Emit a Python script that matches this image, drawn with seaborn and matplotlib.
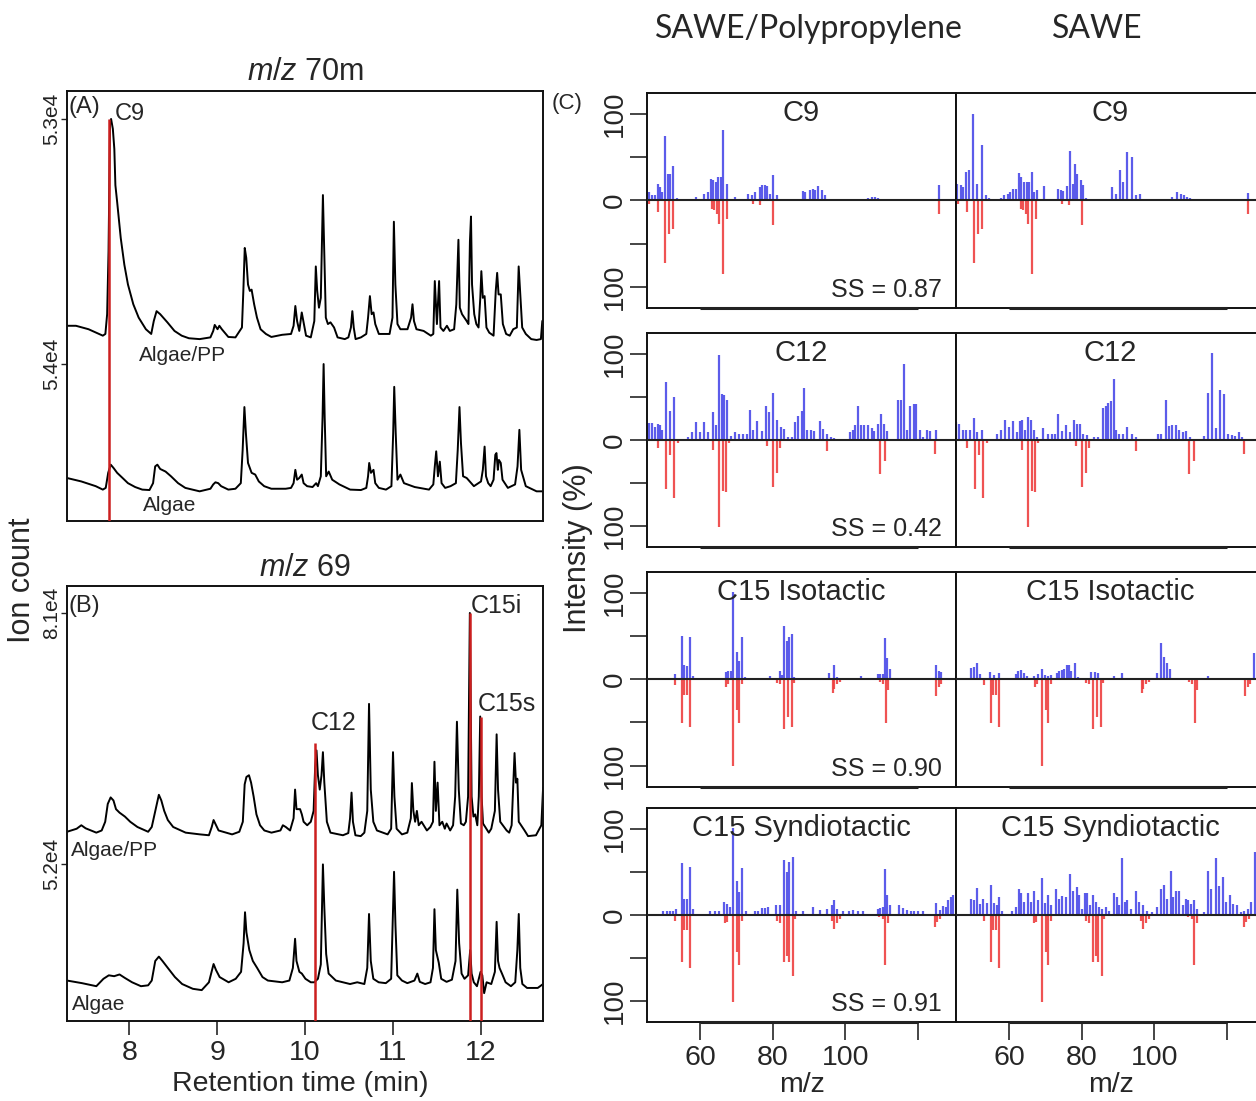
import matplotlib
matplotlib.use("Agg")
import matplotlib.pyplot as plt
import seaborn as sns

# ---------------- chromatogram data (retention time [min], stacked relative signal [% of panel]) -------------
a_algae_pp = [(7.290, 45.4), (7.392, 45.4), (7.535, 44.6), (7.698, 43.1), (7.727, 43.5), (7.747, 48.1), (7.763, 62.7),
              (7.780, 92.7), (7.792, 93.5), (7.812, 91.2), (7.829, 86.5), (7.841, 78.1), (7.861, 74.2), (7.902, 65.8),
              (7.943, 59.6), (7.984, 55.0), (8.045, 50.4), (8.106, 47.3), (8.188, 44.6), (8.249, 43.5), (8.278, 46.5),
              (8.310, 48.8), (8.351, 48.1), (8.433, 46.2), (8.514, 44.2), (8.596, 43.1), (8.678, 42.5), (8.800, 42.3),
              (8.923, 42.7), (8.955, 44.2), (8.972, 45.6), (9.004, 44.6), (9.025, 45.4), (9.053, 44.6), (9.127, 42.8),
              (9.208, 42.7), (9.282, 45.0), (9.298, 53.5), (9.314, 63.5), (9.331, 61.2), (9.351, 55.0), (9.372, 53.5),
              (9.392, 53.8), (9.421, 50.4), (9.453, 47.3), (9.494, 44.6), (9.555, 43.5), (9.617, 42.8), (9.739, 43.3),
              (9.841, 43.5), (9.870, 45.4), (9.890, 50.0), (9.910, 46.5), (9.935, 44.2), (9.963, 48.5), (9.984, 46.2),
              (10.012, 43.1), (10.066, 42.7), (10.106, 46.5), (10.123, 59.2), (10.139, 53.5), (10.159, 49.6),
              (10.180, 51.9), (10.204, 75.8), (10.220, 61.9), (10.237, 47.3), (10.261, 45.8), (10.290, 46.2),
              (10.331, 45.0), (10.371, 42.7), (10.453, 42.3), (10.494, 42.7), (10.523, 45.0), (10.539, 48.8),
              (10.555, 45.0), (10.576, 42.3), (10.637, 42.7), (10.698, 43.5), (10.718, 47.3), (10.739, 52.3),
              (10.759, 48.1), (10.780, 48.5), (10.800, 45.8), (10.841, 43.5), (10.963, 43.5), (10.996, 47.3),
              (11.012, 69.6), (11.029, 55.0), (11.053, 45.8), (11.086, 44.6), (11.167, 44.6), (11.208, 47.3),
              (11.224, 50.4), (11.241, 46.5), (11.269, 44.6), (11.351, 44.2), (11.433, 43.1), (11.461, 43.5),
              (11.478, 55.8), (11.502, 45.8), (11.527, 55.8), (11.543, 45.0), (11.576, 44.2), (11.616, 45.4),
              (11.649, 44.2), (11.698, 44.6), (11.723, 50.4), (11.747, 65.4), (11.763, 49.6), (11.788, 48.1),
              (11.841, 46.5), (11.861, 45.8), (11.878, 65.0), (11.890, 70.8), (11.902, 55.0), (11.927, 48.1),
              (11.951, 45.8), (11.976, 45.0), (11.996, 51.9), (12.008, 58.1), (12.025, 51.9), (12.045, 52.3),
              (12.066, 45.0), (12.098, 43.8), (12.147, 43.1), (12.172, 53.5), (12.188, 57.7), (12.204, 52.7),
              (12.229, 52.7), (12.253, 45.8), (12.290, 43.5), (12.331, 43.1), (12.371, 44.6), (12.412, 45.0),
              (12.433, 59.2), (12.449, 53.5), (12.473, 45.0), (12.514, 43.5), (12.576, 42.3), (12.637, 42.1),
              (12.686, 42.3), (12.702, 46.5), (12.718, 46.9)]

a_algae = [(7.290, 10.0), (7.453, 9.2), (7.617, 8.1), (7.698, 7.3), (7.731, 7.7), (7.759, 11.2), (7.788, 13.1),
           (7.821, 12.3), (7.861, 11.2), (7.923, 10.0), (7.984, 8.8), (8.066, 7.9), (8.147, 7.3), (8.229, 7.2),
           (8.270, 8.8), (8.294, 12.7), (8.319, 13.1), (8.351, 12.1), (8.412, 11.5), (8.474, 10.4), (8.555, 8.8),
           (8.637, 7.7), (8.800, 6.9), (8.923, 7.5), (8.955, 8.5), (8.980, 9.0), (9.012, 8.8), (9.045, 8.1),
           (9.127, 7.3), (9.208, 7.5), (9.269, 8.8), (9.290, 16.5), (9.310, 26.5), (9.327, 20.4), (9.351, 13.5),
           (9.392, 11.2), (9.433, 10.8), (9.474, 9.2), (9.535, 8.1), (9.617, 7.5), (9.780, 7.5), (9.841, 7.7),
           (9.870, 8.8), (9.890, 11.9), (9.910, 9.6), (9.935, 10.0), (9.963, 10.8), (9.984, 8.8), (10.024, 8.1),
           (10.086, 7.9), (10.127, 8.8), (10.147, 8.1), (10.180, 10.4), (10.200, 24.2), (10.212, 36.5),
           (10.224, 24.2), (10.241, 10.4), (10.270, 11.5), (10.310, 9.6), (10.392, 8.5), (10.514, 7.3),
           (10.637, 7.2), (10.698, 7.7), (10.718, 10.4), (10.731, 13.5), (10.751, 11.2), (10.780, 11.9),
           (10.800, 8.8), (10.841, 7.7), (10.922, 7.3), (10.984, 8.1), (11.004, 20.4), (11.016, 31.2),
           (11.033, 20.4), (11.053, 9.6), (11.086, 10.8), (11.127, 8.8), (11.249, 7.9), (11.412, 7.3),
           (11.461, 8.5), (11.478, 12.7), (11.494, 16.2), (11.514, 10.4), (11.535, 13.8), (11.555, 8.8),
           (11.596, 7.7), (11.657, 8.1), (11.718, 8.8), (11.739, 16.5), (11.759, 26.5), (11.776, 18.1),
           (11.800, 10.4), (11.841, 10.0), (11.923, 8.1), (12.004, 9.2), (12.025, 11.9), (12.045, 17.3),
           (12.061, 10.4), (12.086, 8.8), (12.114, 8.1), (12.147, 9.6), (12.167, 15.4), (12.180, 15.8),
           (12.196, 11.9), (12.208, 14.2), (12.229, 13.5), (12.249, 9.6), (12.310, 7.7), (12.392, 8.5),
           (12.420, 12.7), (12.441, 21.2), (12.461, 11.9), (12.514, 8.1), (12.637, 6.9), (12.718, 6.9)]

b_algae_pp = [(7.290, 43.5), (7.400, 44.2), (7.453, 45.0), (7.502, 44.3), (7.624, 43.3), (7.685, 43.8), (7.725, 45.8),
              (7.754, 49.9), (7.787, 51.4), (7.819, 50.7), (7.848, 48.7), (7.888, 47.9), (7.949, 47.0), (8.010, 45.8),
              (8.092, 44.6), (8.214, 43.5), (8.255, 44.6), (8.295, 48.3), (8.336, 52.0), (8.364, 50.7), (8.397, 48.3),
              (8.438, 46.2), (8.499, 44.6), (8.641, 43.3), (8.804, 42.9), (8.906, 42.7), (8.938, 44.6), (8.959, 46.2),
              (8.987, 45.0), (9.016, 43.8), (9.170, 42.9), (9.252, 43.5), (9.292, 45.8), (9.313, 54.4), (9.333, 56.1),
              (9.362, 56.5), (9.386, 54.8), (9.415, 51.6), (9.447, 47.5), (9.488, 45.0), (9.537, 43.8), (9.618, 43.3),
              (9.720, 43.8), (9.748, 45.0), (9.781, 44.6), (9.830, 43.8), (9.870, 46.6), (9.887, 53.2), (9.903, 48.7),
              (9.944, 48.7), (9.964, 47.5), (9.984, 45.8), (10.025, 45.0), (10.066, 45.8), (10.098, 48.3),
              (10.115, 58.1), (10.131, 62.2), (10.147, 56.5), (10.168, 53.2), (10.188, 56.5), (10.204, 61.8),
              (10.220, 54.8), (10.249, 45.8), (10.290, 43.3), (10.432, 42.7), (10.493, 43.2), (10.513, 46.6),
              (10.530, 52.5), (10.546, 45.8), (10.574, 42.7), (10.635, 42.5), (10.676, 43.3), (10.709, 48.3),
              (10.729, 72.9), (10.749, 53.2), (10.778, 45.8), (10.819, 43.8), (10.941, 42.9), (10.981, 44.2),
              (11.002, 61.8), (11.018, 51.6), (11.043, 44.2), (11.104, 42.9), (11.165, 43.3), (11.205, 46.6),
              (11.217, 54.7), (11.234, 48.3), (11.254, 45.8), (11.274, 48.3), (11.295, 45.0), (11.327, 45.8),
              (11.388, 43.8), (11.428, 44.6), (11.457, 45.8), (11.474, 59.6), (11.490, 48.3), (11.510, 54.8),
              (11.531, 45.0), (11.563, 45.8), (11.592, 44.2), (11.612, 45.4), (11.653, 43.8), (11.686, 45.0),
              (11.710, 51.6), (11.730, 68.8), (11.751, 53.2), (11.775, 45.4), (11.808, 45.0), (11.832, 45.8),
              (11.857, 51.6), (11.877, 93.8), (11.897, 51.6), (11.918, 47.0), (11.938, 47.5), (11.962, 45.0),
              (11.979, 51.6), (11.995, 70.0), (12.011, 51.6), (12.027, 45.4), (12.093, 43.3), (12.121, 44.2),
              (12.162, 48.3), (12.182, 65.9), (12.198, 53.2), (12.223, 45.8), (12.296, 43.8), (12.325, 43.3),
              (12.353, 45.0), (12.369, 53.2), (12.386, 61.6), (12.402, 54.8), (12.418, 55.7), (12.434, 45.8),
              (12.500, 43.8), (12.540, 42.5), (12.630, 42.7), (12.691, 45.0), (12.711, 53.6)]

b_algae = [(7.290, 9.3), (7.461, 8.7), (7.624, 8.0), (7.705, 9.7), (7.766, 10.5), (7.827, 10.3), (7.888, 10.7),
           (7.949, 9.9), (8.031, 8.9), (8.132, 8.0), (8.214, 8.2), (8.255, 9.3), (8.295, 13.8), (8.336, 14.8),
           (8.377, 13.8), (8.438, 12.2), (8.519, 10.1), (8.601, 8.5), (8.723, 7.4), (8.824, 7.1), (8.906, 8.9),
           (8.959, 13.1), (8.987, 11.7), (9.028, 10.1), (9.130, 8.9), (9.211, 9.7), (9.272, 11.3), (9.301, 17.9),
           (9.317, 25.0), (9.333, 20.4), (9.366, 16.3), (9.406, 13.8), (9.455, 12.2), (9.516, 10.1), (9.577, 9.3),
           (9.740, 8.9), (9.822, 9.3), (9.862, 12.2), (9.887, 18.9), (9.903, 13.8), (9.936, 11.3), (9.964, 10.9),
           (10.005, 9.7), (10.066, 8.9), (10.106, 8.9), (10.147, 9.7), (10.180, 13.0), (10.204, 36.0),
           (10.220, 26.1), (10.241, 15.4), (10.269, 10.9), (10.351, 9.3), (10.513, 8.5), (10.595, 8.9),
           (10.676, 8.5), (10.709, 12.2), (10.729, 24.6), (10.749, 13.8), (10.778, 9.7), (10.839, 8.9),
           (10.920, 8.7), (10.981, 9.7), (11.002, 25.3), (11.014, 34.3), (11.030, 22.0), (11.051, 10.5),
           (11.104, 9.3), (11.165, 8.7), (11.246, 9.3), (11.279, 10.9), (11.307, 9.0), (11.368, 8.5),
           (11.429, 8.9), (11.457, 12.2), (11.474, 25.7), (11.490, 16.3), (11.523, 13.4), (11.551, 9.7),
           (11.612, 9.0), (11.673, 9.5), (11.714, 13.8), (11.734, 30.2), (11.755, 17.9), (11.783, 10.9),
           (11.816, 9.7), (11.857, 10.5), (11.881, 16.3), (11.897, 10.9), (11.922, 8.9), (11.958, 8.0),
           (11.999, 11.3), (12.019, 10.5), (12.040, 6.4), (12.068, 8.9), (12.121, 8.5), (12.162, 11.3),
           (12.182, 22.8), (12.198, 13.8), (12.215, 12.2), (12.243, 10.9), (12.284, 8.9), (12.345, 8.0),
           (12.394, 8.9), (12.418, 16.3), (12.434, 24.6), (12.451, 12.2), (12.475, 8.5), (12.528, 7.6),
           (12.650, 7.6), (12.711, 8.5)]

a_ytick_labels = ["5.3e4", "5.4e4"]
b_ytick_labels = ["8.1e4", "5.2e4"]
time_ticks = [8, 9, 10, 11, 12]

# marked compounds (retention time, top of marker)
a_marks = [("C9", 7.772, 93.5)]
b_marks = [("C12", 10.119, 63.9), ("C15i", 11.877, 93.8), ("C15s", 11.999, 70.0)]

# ---------------- mass spectra (m/z, intensity %) ----------------
row_titles = ["C9", "C12", "C15 Isotactic", "C15 Syndiotactic"]
ss_values = ["0.87", "0.42", "0.90", "0.91"]
col_titles = ["SAWE/Polypropylene", "SAWE"]

c9_mix = [(46.0, 9.6), (46.7, 5.8), (47.6, 5.8), (48.3, 18.5), (49.0, 15.4), (49.4, 9.6), (50.45, 75), (51.1, 30.8),
          (51.7, 30.8), (52.65, 39.2), (53.75, 3), (58.9, 3.8), (61.1, 7.7), (62.3, 9.6), (62.9, 25), (63.7, 23),
          (64.4, 21), (65.0, 27), (65.7, 27), (66.4, 81.5), (67.3, 19), (69.6, 3.8), (73.3, 7.7), (74.2, 5.8),
          (75.1, 9.6), (76.1, 2), (76.5, 15.4), (77.2, 17.3), (77.9, 17.3), (78.5, 16.2), (79.3, 7.7), (80.2, 29.6),
          (81.1, 5.8), (88.3, 10.8), (88.9, 9.6), (90.3, 11.5), (91.0, 13.5), (91.7, 11.5), (92.6, 16.2),
          (93.5, 11.5), (94.4, 5.8), (106.4, 3), (107.3, 4), (108.2, 3.5), (109.1, 3), (125.8, 17.3)]
c9_sawe = [(45.05, 23), (45.8, 19.2), (46.7, 17.3), (47.4, 15.4), (48.1, 32.7), (49.0, 34.6), (50.2, 100), (51.3, 18.5),
           (52.5, 63.5), (53.6, 5.8), (54.5, 3), (57.7, 3), (58.6, 5.8), (59.6, 7.7), (60.3, 9.6), (61.2, 13.5),
           (62.0, 13.5), (62.8, 31.5), (63.4, 27), (64.2, 21), (64.9, 21), (65.5, 21), (66.2, 32.7), (66.9, 9.6),
           (67.6, 11.5), (69.5, 16.2), (73.5, 13.5), (74.3, 11.5), (75.0, 10.8), (75.9, 16.2), (76.8, 57),
           (77.5, 19.2), (78.1, 42.3), (78.8, 30.8), (79.8, 23), (80.5, 17.3), (81.1, 3), (82.1, 2), (88.5, 15.4),
           (89.4, 7.7), (90.6, 34.6), (91.5, 21), (92.6, 55.8), (93.8, 50), (94.9, 5.8), (96.1, 7.7), (103.6, 2),
           (105.0, 3.8), (106.4, 9.6), (107.3, 7.7), (108.2, 5.8), (109.1, 3.8), (109.9, 3), (125.7, 8.5)]
c9_ref = [(46.0, 3.8), (48.5, 13.5), (50.45, 73), (51.5, 38.5), (52.5, 32.7), (63.2, 9.6), (63.9, 11.5), (64.6, 15.4),
          (65.3, 27), (66.4, 84.6), (67.3, 21), (74.7, 3.8), (76.5, 5.8), (80.2, 28.8), (125.8, 15.4)]

c12_mix = [(46.0, 19.5), (46.7, 19.5), (47.6, 15), (48.3, 19), (49.0, 17), (49.4, 12), (50.6, 67), (51.6, 34),
           (52.7, 50), (53.8, 1), (56.8, 4), (57.7, 9), (58.9, 21), (60.0, 9), (61.1, 21), (62.3, 9), (63.5, 32),
           (64.4, 17), (65.3, 99), (66.0, 54), (66.7, 52), (67.5, 46), (68.4, 5), (69.6, 9), (70.8, 7), (71.9, 7),
           (72.9, 7), (73.8, 35), (74.7, 12), (75.8, 22), (77.0, 11), (78.1, 40), (79.1, 32), (80.2, 55), (81.3, 23),
           (82.2, 15), (83.0, 13), (84.3, 4), (85.2, 4), (86.2, 21), (87.1, 28), (88.0, 34), (88.6, 60), (89.6, 12),
           (90.5, 12), (91.4, 11), (93.1, 22), (94.0, 13), (94.9, 7), (96.0, 4), (96.9, 2), (101.3, 9), (102.2, 12),
           (102.7, 17), (103.6, 39), (104.4, 18), (105.3, 17), (106.2, 17), (107.3, 14), (108.0, 11), (109.1, 19),
           (109.8, 30), (110.8, 19), (111.4, 11), (114.6, 47), (115.3, 46), (116.2, 88), (116.9, 12), (117.9, 40),
           (118.8, 42), (119.5, 42), (120.6, 12), (121.5, 3), (122.6, 12), (123.4, 11), (125.0, 12)]
c12_sawe = [(45.3, 21), (46.2, 19), (47.2, 12), (48.1, 12), (49.3, 12), (50.4, 26), (51.3, 9), (52.5, 12), (53.6, 1),
            (56.8, 7), (57.7, 12), (58.8, 23), (60.0, 15), (61.2, 22), (62.1, 9), (63.1, 22), (63.7, 23), (64.3, 12),
            (65.3, 27), (66.0, 23), (66.9, 12), (67.8, 3), (69.4, 14), (70.6, 7), (71.8, 7), (72.6, 7), (73.5, 30),
            (74.5, 11), (75.6, 17), (76.8, 9), (77.9, 23), (78.7, 19), (79.6, 19), (80.5, 7), (81.6, 6), (83.3, 4),
            (84.4, 3), (86.0, 37), (86.7, 40), (87.3, 43), (88.0, 45), (88.8, 71), (89.4, 12), (90.3, 7), (91.5, 7),
            (92.6, 15), (93.8, 7), (94.9, 4), (95.8, 1), (100.9, 7), (101.8, 7), (103.2, 47), (104.1, 16),
            (105.0, 17), (106.0, 17), (106.9, 12), (107.8, 9), (108.7, 11), (109.9, 4), (113.7, 5), (114.8, 55),
            (116.0, 101), (117.0, 14), (118.1, 58), (119.2, 54), (120.3, 7), (121.3, 6), (122.2, 5), (123.4, 9),
            (124.3, 3)]
c12_ref = [(48.3, 9), (50.6, 57), (51.6, 18), (52.7, 67), (53.8, 3), (63.5, 12), (65.3, 101), (66.2, 59), (67.2, 60),
           (68.1, 4), (78.4, 7), (80.2, 55), (81.3, 38), (82.0, 9), (95.1, 13), (109.6, 40), (111.0, 24), (124.7, 16)]

c15i_mix = [(53.1, 6), (55.0, 50), (55.7, 16), (56.3, 15), (57.2, 49), (58.2, 4), (67.2, 8), (67.8, 9), (68.5, 9),
            (69.2, 101), (70.1, 32), (70.7, 21), (71.5, 49), (72.4, 3), (79.3, 4), (81.9, 9), (82.5, 5), (83.1, 62),
            (83.9, 44), (84.6, 49), (85.3, 52), (85.9, 3), (95.4, 7), (97.0, 16), (97.7, 3), (104.3, 4), (108.9, 6),
            (109.6, 6), (110.3, 6), (111.0, 48), (111.6, 25), (112.3, 12), (125.0, 16), (125.7, 9), (126.3, 8)]
c15i_sawe = [(49.6, 13), (50.4, 14), (51.1, 19), (52.0, 6), (54.8, 8), (55.9, 5), (57.3, 7), (61.9, 6), (62.6, 9),
             (63.2, 11), (64.0, 7), (64.9, 4), (66.9, 4), (68.0, 6), (69.0, 12), (69.8, 5), (70.8, 4), (71.7, 5),
             (73.2, 7), (73.8, 10), (74.5, 11), (75.2, 12), (75.9, 16), (76.6, 17), (77.2, 9), (78.1, 19), (79.0, 3),
             (82.5, 8), (83.6, 8), (84.4, 7), (88.9, 4), (91.2, 7), (100.7, 7), (101.8, 42), (102.7, 26), (103.5, 19),
             (104.4, 12), (114.7, 4), (127.5, 30)]
c15i_ref = [(53.1, 7), (55.0, 51), (55.7, 18), (56.3, 18), (57.2, 55), (67.2, 9), (67.8, 5), (69.2, 101), (70.1, 36),
            (70.7, 51), (71.5, 5), (81.1, 4), (81.9, 5), (83.1, 58), (84.1, 44), (85.3, 55), (86.0, 4), (96.6, 16),
            (97.0, 11), (97.7, 5), (98.6, 3), (109.6, 3), (110.5, 5), (111.2, 51), (111.9, 12), (125.0, 19),
            (125.7, 9), (126.3, 5)]

c15s_mix = [(49.9, 4), (50.8, 5), (51.6, 5), (52.5, 5), (53.4, 7), (55.0, 60), (55.7, 19), (56.3, 19), (57.2, 56),
            (58.2, 7), (62.8, 4), (64.1, 5), (65.3, 5), (66.6, 15), (67.3, 13), (68.3, 9), (69.2, 101), (70.1, 39),
            (70.7, 27), (71.5, 55), (72.7, 4), (75.2, 4), (76.1, 5), (77.0, 8), (77.9, 8), (78.8, 9), (80.9, 12),
            (81.9, 12), (83.1, 64), (83.9, 50), (84.6, 62), (85.5, 67), (86.4, 5), (88.5, 5), (91.0, 9), (93.1, 6),
            (94.9, 7), (96.3, 11), (97.0, 17), (97.8, 7), (99.5, 5), (100.9, 5), (102.2, 6), (103.6, 5), (104.8, 5),
            (108.9, 7), (109.6, 8), (110.3, 9), (111.0, 53), (111.6, 23), (112.3, 12), (114.9, 11), (116.0, 8),
            (116.9, 6), (118.0, 5), (119.0, 4), (120.1, 4), (121.5, 4), (125.0, 14), (126.0, 6), (126.9, 10),
            (127.8, 9), (128.4, 17), (129.1, 21), (129.8, 23)]
c15s_sawe = [(49.6, 19), (50.4, 17), (51.1, 31), (52.0, 13), (52.9, 19), (53.9, 14), (55.0, 35), (55.9, 14),
             (56.6, 11), (57.3, 21), (58.2, 4), (60.9, 4), (61.9, 9), (62.8, 30), (63.4, 25), (64.2, 15), (65.1, 25),
             (66.0, 15), (66.9, 28), (68.0, 17), (69.0, 43), (69.8, 14), (70.8, 23), (71.5, 12), (72.9, 30),
             (73.8, 19), (74.7, 22), (75.6, 21), (76.8, 48), (77.7, 28), (78.7, 32), (79.3, 23), (80.0, 7),
             (80.9, 25), (81.6, 25), (82.3, 12), (83.0, 23), (83.9, 15), (84.8, 9), (85.7, 7), (86.7, 9), (87.6, 5),
             (88.8, 26), (89.7, 21), (90.3, 12), (91.1, 66), (91.9, 15), (92.6, 17), (93.5, 7), (94.9, 28),
             (95.8, 15), (96.8, 12), (98.1, 5), (99.5, 3), (100.7, 9), (101.8, 30), (102.7, 35), (103.6, 19),
             (104.6, 51), (105.3, 21), (105.9, 28), (106.9, 28), (107.8, 12), (108.7, 19), (109.3, 17), (110.2, 13),
             (111.0, 17), (111.9, 7), (113.6, 3), (114.7, 51), (115.6, 30), (117.0, 66), (117.9, 34), (118.8, 44),
             (119.7, 15), (120.9, 23), (121.8, 13), (122.7, 12), (123.8, 3), (124.8, 5), (125.7, 7), (126.6, 15),
             (127.7, 73)]
c15s_ref = [(53.1, 7), (55.0, 55), (55.7, 18), (56.3, 18), (57.2, 62), (66.9, 10), (67.5, 8), (69.2, 101), (70.1, 43),
            (70.7, 59), (71.5, 7), (81.1, 7), (82.0, 9), (83.1, 55), (83.9, 48), (84.6, 55), (85.5, 71), (86.2, 5),
            (96.3, 7), (97.0, 17), (97.8, 9), (98.6, 5), (109.4, 3), (110.3, 5), (111.0, 59), (111.9, 10),
            (124.7, 14), (125.4, 8), (126.1, 5)]

mix_spectra = [c9_mix, c12_mix, c15i_mix, c15s_mix]
sawe_spectra = [c9_sawe, c12_sawe, c15i_sawe, c15s_sawe]
ref_spectra = [c9_ref, c12_ref, c15i_ref, c15s_ref]
mz_ticks = [60, 80, 100, 120]
mz_tick_labels = ["60", "80", "100", ""]
int_ticks = [100, 50, 0, -50, -100]
int_tick_labels = ["100", "", "0", "", "100"]

# ---------------- styling ----------------
sns.set_style("white")
plt.rcParams['font.family'] = ['Liberation Sans', 'DejaVu Sans']
plt.rcParams['mathtext.fontset'] = 'custom'
plt.rcParams['mathtext.it'] = 'Liberation Sans:italic'
plt.rcParams['mathtext.rm'] = 'Liberation Sans'
plt.rcParams['axes.edgecolor'] = '#111111'
plt.rcParams['axes.linewidth'] = 1.4

W, H = 1256, 1101
fig = plt.figure(figsize=(W / 100, H / 100), dpi=100)


def rect(l, t, r, b):
    return [l / W, 1 - b / H, (r - l) / W, (b - t) / H]


BLUE = '#4a4ae8'
RED = '#ee4040'
MARK = '#cc1f1f'


def chromatogram(ax, upper, lower, tick_labels, marks, labels):
    for trace in (upper, lower):
        t = [p[0] for p in trace]
        s = [p[1] for p in trace]
        sns.lineplot(x=t, y=s, sort=False, estimator=None, ax=ax, color='black', linewidth=1.4)
    for name, rt, top in marks:
        ax.vlines(rt, 0, top, color=MARK, linewidth=1.8, zorder=3)
    ax.set_xlim(7.29, 12.71)
    ax.set_ylim(0, 100)
    ax.set_yticks([max(p[1] for p in upper), max(p[1] for p in lower)])
    ax.set_yticklabels(tick_labels, rotation=90, va='center', fontsize=15)
    ax.tick_params(axis='y', left=True, length=4, width=1, pad=0.5, colors='#222222')
    ax.set_xlabel('')
    ax.set_ylabel('')
    for txt, x, y, fs in labels:
        ax.text(x, y, txt, ha='left', va='center', fontsize=fs)


axA = fig.add_axes(rect(67, 91, 543, 521))
chromatogram(axA, a_algae_pp, a_algae, a_ytick_labels, a_marks,
             [("(A)", 7.31, 96.2, 17), ("C9", 7.83, 94.6, 17), ("Algae/PP", 8.11, 38.5, 15),
              ("Algae", 8.15, 3.6, 15)])
axA.set_xticks([])

axB = fig.add_axes(rect(67, 586, 543, 1021))
chromatogram(axB, b_algae_pp, b_algae, b_ytick_labels, b_marks,
             [("(B)", 7.31, 95.5, 17), ("C12", 10.07, 68.4, 18), ("C15i", 11.89, 95.5, 18),
              ("C15s", 11.97, 72.9, 18), ("Algae/PP", 7.33, 39.2, 15), ("Algae", 7.35, 3.8, 15)])
axB.set_xticks(time_ticks)
axB.set_xticklabels([str(v) for v in time_ticks], fontsize=20.5)
axB.tick_params(axis='x', bottom=True, length=10, width=1.2, pad=4)

fig.text(305 / W, 1 - 72 / H, r'$\mathit{m/z}$ 70m', ha='center', va='center', fontsize=22)
fig.text(305 / W, 1 - 568 / H, r'$\mathit{m/z}$ 69', ha='center', va='center', fontsize=22)
fig.text(22 / W, 1 - 580 / H, 'Ion count', rotation=90, ha='center', va='center', fontsize=22)
fig.text(300 / W, 1 - 1084 / H, 'Retention time (min)', ha='center', va='center', fontsize=20.5)

# ---------------- spectra grid ----------------
rows = [(92.7, 308), (333, 547), (571.7, 786.7), (808, 1021.7)]
cols = [(647, 956), (956, 1265)]
YL = 124.5
for r, (top, bot) in enumerate(rows):
    for c, (left, right) in enumerate(cols):
        ax = fig.add_axes(rect(left, top, right, bot))
        spec = mix_spectra[r] if c == 0 else sawe_spectra[r]
        ref = ref_spectra[r]
        ax.vlines([p[0] for p in spec], 0, [p[1] for p in spec], color=BLUE, linewidth=1.6, alpha=0.9)
        ax.vlines([p[0] for p in ref], 0, [-p[1] for p in ref], color=RED, linewidth=1.6, alpha=0.9)
        ax.axhline(0, color='#222222', linewidth=1.5, zorder=3)
        ax.set_xlim(45.4, 130.5)
        ax.set_ylim(-YL, YL)
        ax.plot([mz_ticks[0], mz_ticks[-1]], [-YL, -YL], color='#222222', linewidth=2.2,
                solid_capstyle='butt', clip_on=False, zorder=4)
        ax.text(0.5, 1 - 20 / (bot - top), row_titles[r], transform=ax.transAxes,
                ha='center', va='center', fontsize=21)
        if c == 0:
            ax.text(1 - 14 / (right - left), 18 / (bot - top), 'SS = ' + ss_values[r], transform=ax.transAxes,
                    ha='right', va='center', fontsize=18)
            ax.set_yticks(int_ticks)
            ax.set_yticklabels(int_tick_labels, rotation=90, va='center', fontsize=20)
            ax.tick_params(axis='y', left=True, length=12, width=1.2, pad=2)
        else:
            ax.set_yticks([])
        ax.set_xticks(mz_ticks)
        if r == len(rows) - 1:
            ax.set_xticklabels(mz_tick_labels, fontsize=20.5)
            ax.tick_params(axis='x', bottom=True, length=13, width=1.2, pad=4)
            ax.text(0.5, -(1085 - bot) / (bot - top), 'm/z', transform=ax.transAxes,
                    ha='center', va='center', fontsize=20.5)
        else:
            ax.set_xticklabels([])
            ax.tick_params(axis='x', bottom=False)

fig.text(567 / W, 1 - 104 / H, '(C)', ha='center', va='center', fontsize=16)
fig.text(578 / W, 1 - 548 / H, 'Intensity (%)', rotation=90, ha='center', va='center', fontsize=22)
fig.text(809 / W, 1 - 29 / H, col_titles[0], ha='center', va='center', fontsize=23, family=['Lato', 'DejaVu Sans'])
fig.text(1097 / W, 1 - 29 / H, col_titles[1], ha='center', va='center', fontsize=23, family=['Lato', 'DejaVu Sans'])

fig.savefig('out.png', dpi=100)
